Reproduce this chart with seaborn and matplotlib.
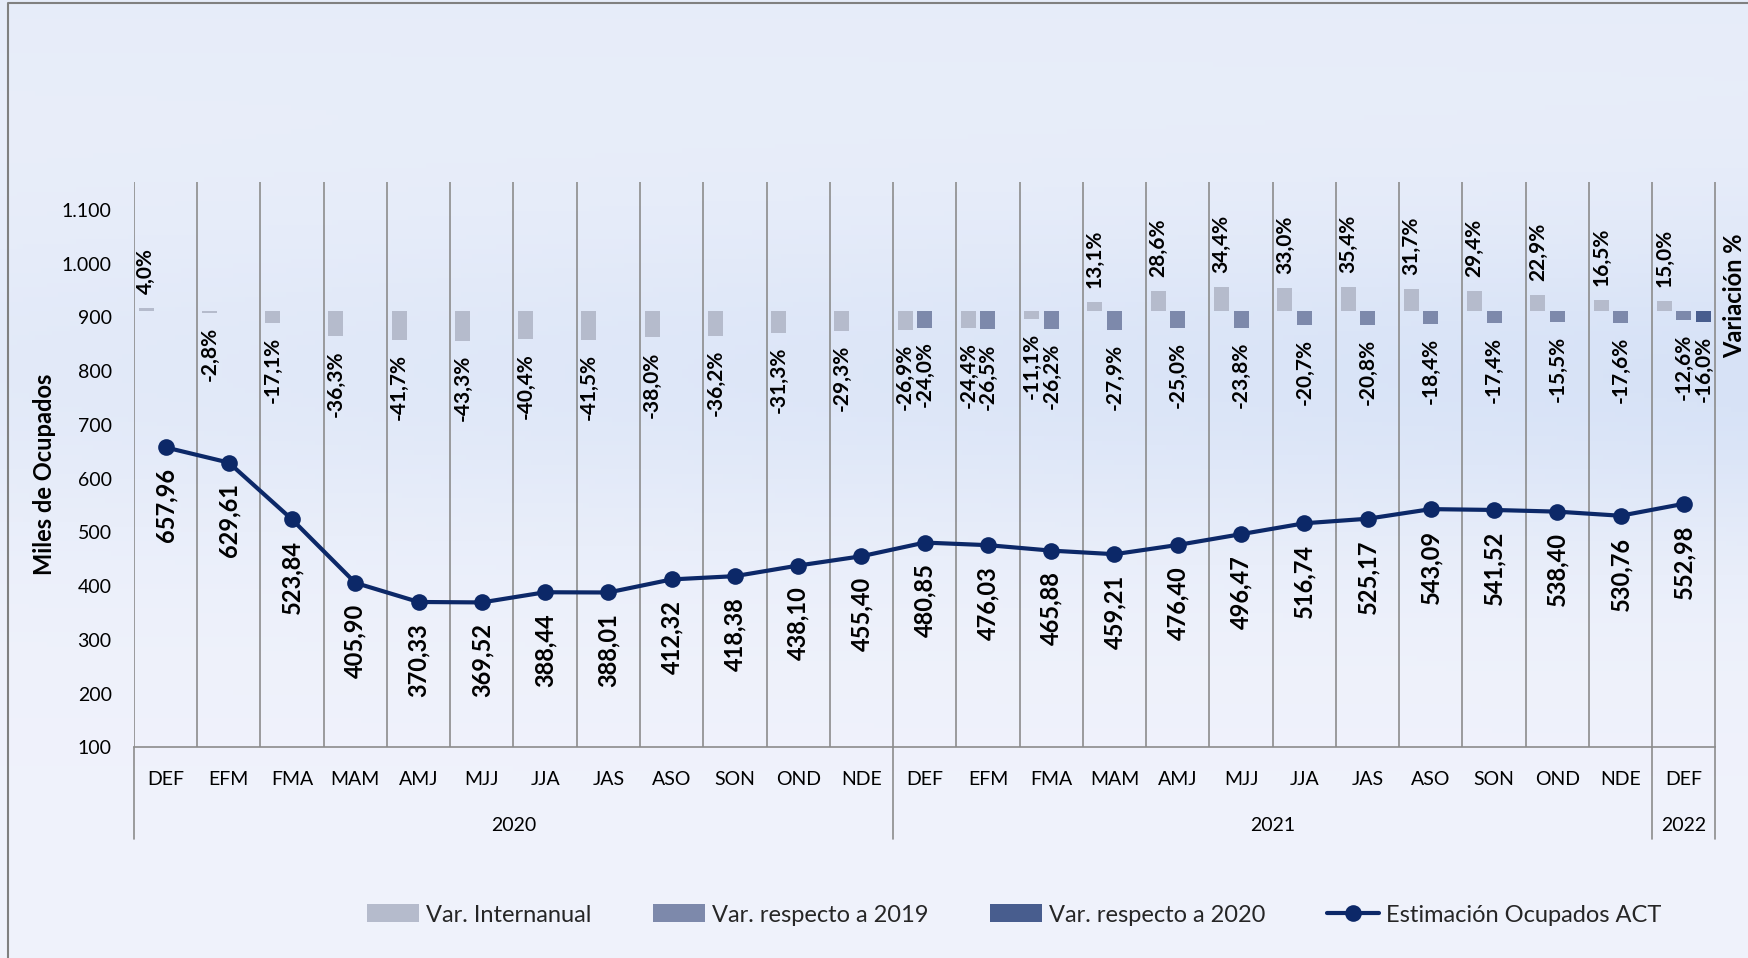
import numpy as np
import pandas as pd
import seaborn as sns
import matplotlib.pyplot as plt
from matplotlib import transforms
from matplotlib.lines import Line2D

# --- datos ---
meses = ["DEF", "EFM", "FMA", "MAM", "AMJ", "MJJ", "JJA", "JAS", "ASO", "SON", "OND", "NDE"] * 2 + ["DEF"]
anios = ["2020"] * 12 + ["2021"] * 12 + ["2022"]
ocupados = [657.96, 629.61, 523.84, 405.90, 370.33, 369.52, 388.44, 388.01, 412.32, 418.38, 438.10, 455.40,
            480.85, 476.03, 465.88, 459.21, 476.40, 496.47, 516.74, 525.17, 543.09, 541.52, 538.40, 530.76,
            552.98]
var_internanual = [4.0, -2.8, -17.1, -36.3, -41.7, -43.3, -40.4, -41.5, -38.0, -36.2, -31.3, -29.3,
                   -26.9, -24.4, -11.1, 13.1, 28.6, 34.4, 33.0, 35.4, 31.7, 29.4, 22.9, 16.5,
                   15.0]
var_2019 = [np.nan] * 12 + [-24.0, -26.5, -26.2, -27.9, -25.0, -23.8, -20.7, -20.8, -18.4, -17.4, -15.5, -17.6,
                            -12.6]
var_2020 = [np.nan] * 24 + [-16.0]

series = {
    "Var. Internanual": var_internanual,
    "Var. respecto a 2019": var_2019,
    "Var. respecto a 2020": var_2020,
}
colores = {
    "Var. Internanual": "#b5bbcc",
    "Var. respecto a 2019": "#7d89ab",
    "Var. respecto a 2020": "#485d8e",
}
color_linea = "#0c2868"
gris = "#8c8c8c"

idx = np.arange(len(meses))
df_linea = pd.DataFrame({"idx": idx, "ocupados": ocupados})
rows = []
for nombre, vals in series.items():
    for i, v in enumerate(vals):
        rows.append({"idx": i, "serie": nombre, "valor": v})
df_barras = pd.DataFrame(rows).dropna()


def coma(v, dec):
    return f"{v:.{dec}f}".replace(".", ",")


sns.set_theme(style="white")
plt.rcParams["font.family"] = ["Lato", "DejaVu Sans"]

W, H = 1749, 958
fig = plt.figure(figsize=(W / 100, H / 100), dpi=100)

# fondo degradado azul claro
yy, xx = np.mgrid[0:1:200j, 0:1:300j]
base = np.array([0.94, 0.95, 0.985])
azul = np.array([0.80, 0.86, 0.96])
w = 0.6 * np.exp(-((yy - 0.40) / 0.17) ** 2) * (0.45 + 0.55 * xx) + 0.25 * (1 - yy) ** 2
w = np.clip(w, 0, 1)[..., None]
img = base * (1 - w) + azul * w
bg = fig.add_axes([0, 0, 1, 1], zorder=-10)
bg.imshow(img, aspect="auto", extent=[0, 1, 0, 1], origin="upper")
bg.axis("off")
fig.add_artist(Line2D([8 / W, 8 / W, 1], [0, 1 - 3 / H, 1 - 3 / H], transform=fig.transFigure,
                      color="#808080", lw=1.5))

rect = [133.9 / W, 1 - 747.3 / H, (1715.5 - 133.9) / W, (747.3 - 181.8) / H]
ax = fig.add_axes(rect)
ax.patch.set_alpha(0)

sns.lineplot(data=df_linea, x="idx", y="ocupados", ax=ax, color=color_linea, linewidth=3,
             marker="o", markersize=12, markeredgecolor=color_linea, markeredgewidth=0,
             label="Estimación Ocupados ACT")
if ax.get_legend() is not None:
    ax.get_legend().remove()

for i, v in zip(idx, ocupados):
    ax.annotate(coma(v, 2), (i, v), xytext=(0, -15), textcoords="offset points", rotation=90,
                ha="center", va="top", fontsize=17, fontweight="bold", color="black")

ax.set_xlim(-0.5, len(meses) - 0.5)
ax.set_ylim(100, 1152)
ax.set_yticks(np.arange(100, 1101, 100))
ax.set_yticklabels([f"{v:,.0f}".replace(",", ".") for v in np.arange(100, 1101, 100)])
ax.set_xticks(idx)
ax.set_xticklabels(meses)
ax.set_xticks(np.append(idx - 0.5, idx[-1] + 0.5), minor=True)
ax.tick_params(axis="both", which="both", length=0, labelsize=14, colors="black")
ax.tick_params(axis="x", which="major", pad=17)
ax.tick_params(axis="y", pad=16)
ax.xaxis.grid(True, which="minor", color=gris, lw=1.2)
ax.xaxis.grid(False, which="major")
ax.yaxis.grid(False)
for s in ["top", "right", "left"]:
    ax.spines[s].set_visible(False)
ax.spines["bottom"].set_color(gris)
ax.spines["bottom"].set_linewidth(1.2)
ax.set_xlabel("")
ax.set_ylabel("Miles de Ocupados", fontsize=17, fontweight="bold", color="black")
ax.yaxis.set_label_coords(-0.049, 0.483)

# eje de categorías multinivel (años)
trans = transforms.blended_transform_factory(ax.transData, ax.transAxes)
limites = [-0.5]
for i in range(1, len(anios)):
    if anios[i] != anios[i - 1]:
        limites.append(i - 0.5)
limites.append(len(anios) - 0.5)
for b in limites:
    ax.plot([b, b], [0, -0.162], transform=trans, clip_on=False, color=gris, lw=1.2)
for a, b in zip(limites[:-1], limites[1:]):
    ax.text((a + b) / 2, -0.138, anios[int(a + 0.5)], transform=trans, ha="center", va="center",
            fontsize=14, color="black")

# barras de variación en un eje propio
ax_b = fig.add_axes(rect, zorder=ax.get_zorder() + 1)
ax_b.patch.set_alpha(0)
sns.barplot(data=df_barras, x="idx", y="valor", hue="serie", hue_order=list(series.keys()),
            palette=colores, saturation=1, width=0.925, gap=0.23, errorbar=None,
            linewidth=0, edgecolor="none", ax=ax_b)
leg = ax_b.get_legend()
bar_handles = list(leg.legend_handles)
bar_labels = [t.get_text() for t in leg.get_texts()]
leg.remove()
ax_b.set_xlim(-0.5, len(meses) - 0.5)
ax_b.set_ylim(-629.6, 186.5)
for cont in ax_b.containers:
    ax_b.bar_label(cont, labels=[coma(p.get_height(), 1) + "%" for p in cont], padding=10,
                   rotation=90, fontsize=15, fontweight="bold", color="black")
ax_b.axis("off")
fig.text(1734.5 / W, 1 - 295.6 / H, "Variación %", rotation=90, ha="center", va="center",
         fontsize=17, fontweight="bold", color="black")

line_handles, line_labels = ax.get_legend_handles_labels()
fig.legend(bar_handles + line_handles, bar_labels + line_labels, loc="center",
           bbox_to_anchor=(0.58, 0.045), ncol=4, frameon=False, fontsize=17,
           handlelength=2.2, handleheight=0.8, handletextpad=0.3, columnspacing=2.6)

fig.savefig("out.png", dpi=100)
